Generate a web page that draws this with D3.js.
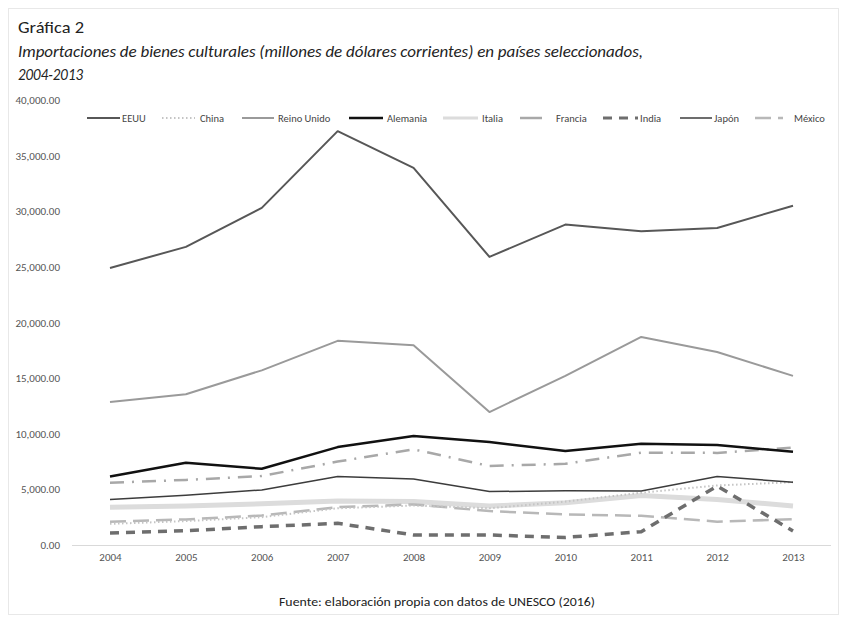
<!DOCTYPE html>
<html>
<head>
<meta charset="utf-8">
<script src="https://cdn.jsdelivr.net/npm/d3@7"></script>
<style>
  html, body { margin: 0; padding: 0; background: #ffffff; }
  svg { display: block; }
  text { font-family: Carlito, "Open Sans", "Noto Sans", sans-serif; }
</style>
</head>
<body>
<svg id="chart" width="847" height="623"></svg>
<script>
// Import values, millions of current US dollars
const years = [2004, 2005, 2006, 2007, 2008, 2009, 2010, 2011, 2012, 2013];
const yTicks = [0, 5000, 10000, 15000, 20000, 25000, 30000, 35000, 40000];

const eeuu       = [24900, 26800, 30300, 37200, 33900, 25900, 28800, 28200, 28500, 30500];
const china      = [1900, 2150, 2500, 3300, 3550, 3300, 3900, 4700, 5350, 5650];
const reinoUnido = [12850, 13550, 15700, 18350, 17950, 11950, 15200, 18700, 17350, 15200];
const alemania   = [6150, 7400, 6850, 8800, 9800, 9250, 8450, 9100, 8990, 8380];
const italia     = [3400, 3500, 3700, 3950, 3900, 3500, 3800, 4450, 4100, 3500];
const francia    = [5600, 5850, 6200, 7500, 8600, 7100, 7300, 8300, 8280, 8750];
const india      = [1080, 1280, 1650, 1950, 900, 900, 680, 1200, 5300, 1260];
const japon      = [4100, 4480, 4950, 6150, 5930, 4800, 4880, 4850, 6150, 5640];
const mexico     = [2100, 2300, 2650, 3400, 3650, 3050, 2750, 2620, 2100, 2320];

const seriesNames = ["EEUU", "China", "Reino Unido", "Alemania", "Italia", "Francia", "India", "Japón", "México"];
const seriesValues = [eeuu, china, reinoUnido, alemania, italia, francia, india, japon, mexico];

// Stroke styling per series (grayscale palette)
const styles = {
  "EEUU":        { color: "#575757", width: 2,   dash: null },
  "China":       { color: "#c4c4c4", width: 2,   dash: "1.5 2.5" },
  "Reino Unido": { color: "#9a9a9a", width: 2,   dash: null },
  "Alemania":    { color: "#111111", width: 2.5, dash: null },
  "Italia":      { color: "#dcdcdc", width: 5,   dash: null },
  "Francia":     { color: "#a8a8a8", width: 2.5, dash: "14 8 2 8" },
  "India":       { color: "#6e6e6e", width: 3.5, dash: "9 7" },
  "Japón":       { color: "#3c3c3c", width: 1.5, dash: null },
  "México":      { color: "#b8b8b8", width: 2.5, dash: "16 7" }
};

// Legend placement (line start, line end, text start)
const legendItems = [
  { name: "EEUU",        x0: 87,  x1: 120, tx: 122 },
  { name: "China",       x0: 162, x1: 195, tx: 200 },
  { name: "Reino Unido", x0: 242, x1: 274, tx: 278 },
  { name: "Alemania",    x0: 349, x1: 383, tx: 387 },
  { name: "Italia",      x0: 443, x1: 478, tx: 482 },
  { name: "Francia",     x0: 520, x1: 542, tx: 556 },
  { name: "India",       x0: 603, x1: 638, tx: 640 },
  { name: "Japón",       x0: 680, x1: 712, tx: 714 },
  { name: "México",      x0: 755, x1: 783, tx: 794 }
];

const svg = d3.select("#chart");

// Chart frame
svg.append("rect")
  .attr("x", 8.5).attr("y", 8.5)
  .attr("width", 830).attr("height", 606)
  .attr("fill", "#ffffff")
  .attr("stroke", "#e8e8e8")
  .attr("stroke-width", 1);

// Titles
svg.append("text")
  .attr("x", 18).attr("y", 33)
  .attr("font-size", 16.5).attr("fill", "#222")
  .attr("textLength", 66).attr("lengthAdjust", "spacingAndGlyphs")
  .text("Gráfica 2");
svg.append("text")
  .attr("x", 18).attr("y", 57)
  .attr("font-size", 16).attr("font-style", "italic").attr("fill", "#222")
  .attr("textLength", 625).attr("lengthAdjust", "spacingAndGlyphs")
  .text("Importaciones de bienes culturales (millones de dólares corrientes) en países seleccionados,");
svg.append("text")
  .attr("x", 18).attr("y", 80)
  .attr("font-size", 16).attr("font-style", "italic").attr("fill", "#222")
  .attr("textLength", 65).attr("lengthAdjust", "spacingAndGlyphs")
  .text("2004-2013");

// Scales
const x = d3.scalePoint().domain(years).range([110, 793]);
const y = d3.scaleLinear().domain([0, 40000]).range([545, 100]);

// Y axis labels
const fmt = d3.format(",.2f");
const yAxis = svg.append("g")
  .attr("transform", "translate(60,0)")
  .call(d3.axisLeft(y).tickValues(yTicks).tickFormat(fmt).tickSize(0).tickPadding(0));
yAxis.select(".domain").remove();
yAxis.selectAll("text")
  .attr("font-size", 11).attr("fill", "#555")
  .style("font-family", 'Carlito, "Open Sans", "Noto Sans", sans-serif');

// X axis
const xAxis = svg.append("g")
  .attr("transform", "translate(0,545)")
  .call(d3.axisBottom(x).tickSize(0).tickPadding(8));
xAxis.select(".domain")
  .attr("d", "M72,0.5H831")
  .attr("stroke", "#d9d9d9");
xAxis.selectAll("text")
  .attr("font-size", 11).attr("fill", "#555")
  .style("font-family", 'Carlito, "Open Sans", "Noto Sans", sans-serif');

// Series lines
const line = d3.line()
  .x((d, i) => x(years[i]))
  .y(d => y(d));

const drawOrder = ["Italia", "México", "China", "India", "Francia", "Japón", "Reino Unido", "Alemania", "EEUU"];
drawOrder.forEach(name => {
  const idx = seriesNames.indexOf(name);
  const st = styles[name];
  svg.append("path")
    .datum(seriesValues[idx])
    .attr("d", line)
    .attr("fill", "none")
    .attr("stroke", st.color)
    .attr("stroke-width", st.width)
    .attr("stroke-linejoin", "round")
    .attr("stroke-dasharray", st.dash);
});

// Legend
const legend = svg.append("g");
legendItems.forEach(item => {
  const st = styles[item.name];
  legend.append("line")
    .attr("x1", item.x0).attr("x2", item.x1)
    .attr("y1", 118).attr("y2", 118)
    .attr("stroke", st.color)
    .attr("stroke-width", Math.min(st.width, 3))
    .attr("stroke-dasharray", item.name === "Francia" ? null : st.dash);
  legend.append("text")
    .attr("x", item.tx).attr("y", 121.5)
    .attr("font-size", 10.5).attr("fill", "#444")
    .text(item.name);
});

// Source note
svg.append("text")
  .attr("x", 437).attr("y", 606)
  .attr("text-anchor", "middle")
  .attr("font-size", 13).attr("fill", "#222")
  .attr("textLength", 316).attr("lengthAdjust", "spacingAndGlyphs")
  .text("Fuente: elaboración propia con datos de UNESCO (2016)");
</script>
</body>
</html>
